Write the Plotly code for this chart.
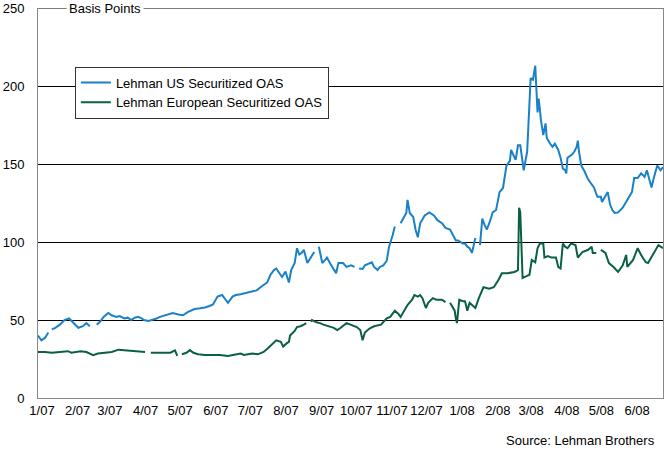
import pandas as pd
import plotly.graph_objects as go

# Days since 1 Jan 2007 and spread in basis points (None = gap in the series)
us_day = [0, 3, 6, 9, 10, 12, 15, 19, 23, 27, 31, 35, 39, 42, 45, 47, 51, 54, 57, 61,
          64, 68, 71, 75, 78, 81, 84, 87, 90, 92, 96, 99, 103, 106, 111, 115, 117, 122, 126, 130,
          134, 136, 141, 145, 149, 152, 156, 160, 163, 165, 169, 172, 176, 179, 184, 190, 195, 199, 202, 205,
          207, 210, 212, 215, 218, 220, 223, 225, 227, 229, 231, 234, 237, 240, 241, 244, 247, 249, 251, 254,
          259, 261, 265, 268, 272, 275, 277, 279, 282, 284, 290, 292, 295, 297, 300, 303, 305, 308, 310, 312,
          315, 318, 320, 321, 323, 326, 328, 330, 332, 336, 340, 344, 347, 351, 354, 358, 363, 365, 369, 371,
          373, 375, 377, 380, 381, 384, 386, 388, 390, 393, 395, 398, 401, 404, 407, 410, 411, 415, 417, 419,
          422, 425, 428, 430, 432, 434, 435, 437, 439, 441, 442, 445, 447, 449, 452, 454, 456, 458, 459, 460,
          464, 466, 468, 469, 470, 472, 475, 478, 480, 483, 486, 489, 490, 493, 495, 497, 499, 501, 504, 508,
          512, 516, 518, 521, 524, 527, 529, 531, 533, 535, 538, 541, 543]
us_oas = [40, 37, 38.5, 42, None, 44, 45, 47, 50, 51, 48, 45, 46, 48, 46, None, 47, 49, 52, 54.5,
          53, 52, 52.5, 51, 51.5, 50, 51.5, 52, 51, 50, 49.4, 50, 51, 52, 53, 54, 54.5, 53.5, 53, 55,
          56, 57, 57.5, 58, 59, 60, 65, 66, 63, 61, 65, 66, 66.5, 67, 68, 69, 72, 74, 79, 82,
          83, 80, 77.6, 81, 74, 82, 86.5, 96, 92, 93, 95, 86.5, 90, 93.6, None, 97, 86.5, 88, 90, 86,
          80, 86.5, 86.5, 84, 85, 84, None, 83, 82.7, 85, 87, 84, 82, 84, 85, 88, 97, 104, 110, None,
          112, 116, 118.6, 127, 118.6, 116, 108, 103, 112, 117, 119, 117, 114, 112, 109, 108, 101, 101, 99, 99,
          97, 96, 93, 102.6, None, 98, 115, 111, 108, 114, 119, 120.5, 132, 134.6, 149, 152, 159, 152.6, 162, 162,
          146, 158, 205, 204, 213, 183, 192, 178, 168.6, 176, 166.7, 163, 161, 163, 159, 154, 147, 146, 144, 154,
          156, 158, 161, 165, 158, 149, 145, 140, 138, 135, 129, 129, 125.6, 130, 132, 124, 120.5, 118.6, 119, 122,
          127, 132, 141, 141, 144, 141.7, 146, 140, 135, 141, 149, 146, 148]

eu_day = [0, 6, 12, 19, 26, 29, 37, 42, 48, 52, 58, 64, 70, 76, 83, 90, 93, 96, 98, 103,
          109, 115, 119, 121, 123, 125, 129, 132, 135, 139, 145, 151, 158, 165, 171, 176, 179, 186, 191, 196,
          200, 204, 207, 211, 213, 216, 218, 219, 223, 225, 228, 231, 233, 234, 237, 238, 242, 245, 248, 254,
          257, 260, 263, 268, 272, 277, 280, 282, 284, 288, 292, 296, 298, 303, 306, 310, 313, 315, 318, 321,
          325, 327, 330, 332, 334, 337, 339, 343, 346, 351, 354, 356, 358, 362, 363, 364, 366, 369, 371, 373,
          375, 380, 383, 387, 392, 396, 400, 403, 408, 414, 417, 418, 419, 421, 424, 427, 429, 432, 434, 436,
          439, 440, 443, 446, 450, 452, 454, 456, 458, 460, 463, 467, 469, 473, 478, 481, 482, 485, 487, 489,
          493, 496, 500, 504, 508, 511, 512, 517, 521, 524, 528, 530, 534, 539, 543]
eu_oas = [29.5, 29.5, 29, 29.5, 30, 29, 30, 29.5, 27.5, 28.5, 29, 29.5, 31, 30.5, 30, 29.5, 29.5, None, 29, 29,
          29, 29, 30.5, 27, None, 28, 29, 30.7, 29, 28, 27.5, 27.5, 27.5, 27, 28, 28.5, 27.6, 28.5, 28, 29.5,
          32, 35, 37, 36, 33, 35, 36, 40, 43, 45.5, 46, 47, 48, None, 49, 50, 48.5, 48, 47, 45.5,
          45, 43.6, 45, 48, 47, 45.5, 43.6, 37, 42, 44.5, 46, 46.5, 47, 51, 52, 56, 54, 52, 56, 59.6,
          63, 66, 65, 66, 64, 57.7, 61, 64, 63, 63, 61.5, None, 61, 56, 51, 48, 63, 62, 62, 56,
          61, 57.7, 64, 71, 70, 71, 75.6, 80, 80, 80.8, 82, 122, 119, 77, 78, 79, 88.5, 87, 96, 99,
          99, 90, 91, 90, 90, 84, 83, 99, 97, 96, 99, 98, 90, 93.6, 95, 97, 93, 93, None, 95,
          93, 86.5, 84, 80.8, 85, 91.7, 84, 88.5, 96, 91.7, 87, 86.5, 91.7, 98, 96]

tick_months = pd.date_range("2007-01-01", "2008-06-01", freq="MS")
tick_labels = ["1/07", "2/07", "3/07", "4/07", "5/07", "6/07", "7/07", "8/07", "9/07",
               "10/07", "11/07", "12/07", "1/08", "2/08", "3/08", "4/08", "5/08", "6/08"]

start = pd.Timestamp("2007-01-01")
us_dates = start + pd.to_timedelta(us_day, unit="D")
eu_dates = start + pd.to_timedelta(eu_day, unit="D")

fig = go.Figure()
fig.add_trace(go.Scatter(x=us_dates, y=us_oas, mode="lines", name="Lehman US Securitized OAS",
                         line=dict(color="#1a80c8", width=2)))
fig.add_trace(go.Scatter(x=eu_dates, y=eu_oas, mode="lines", name="Lehman European Securitized OAS",
                         line=dict(color="#0b6040", width=2)))

fig.update_layout(
    width=664, height=452,
    margin=dict(l=38, r=1, t=8, b=54),
    paper_bgcolor="white", plot_bgcolor="white",
    font=dict(family="Liberation Sans, Arial", size=13, color="#000"),
    showlegend=True,
    legend=dict(x=0.059, y=0.85, xanchor="left", yanchor="top",
                bgcolor="white", bordercolor="#333", borderwidth=1,
                font=dict(size=13), itemwidth=30, tracegroupgap=0),
    xaxis=dict(type="date", range=[start, pd.Timestamp("2008-06-27")],
               tickvals=tick_months, ticktext=tick_labels, ticklabelshift=4,
               showgrid=False, showline=True, linecolor="#888", linewidth=1,
               ticks="", zeroline=False),
    yaxis=dict(range=[0, 250], dtick=50, showgrid=True, gridcolor="#000", gridwidth=1,
               showline=True, linecolor="#888", linewidth=1, mirror=True,
               ticks="", ticklabelstandoff=10, zeroline=False),
)

# top gridline at 250 with the unit label sitting on it
fig.add_hline(y=250, line=dict(color="#000", width=1))
fig.add_annotation(text="Basis Points", xref="paper", yref="paper", x=0.045, y=1,
                   xanchor="left", yanchor="middle", showarrow=False, bgcolor="white",
                   borderpad=2)
fig.add_annotation(text="Source: Lehman Brothers", xref="paper", yref="paper", x=0.99, y=-0.108,
                   xanchor="right", yanchor="middle", showarrow=False)

fig.write_html("out.html", config={"displayModeBar": False},
               post_script="document.body.style.margin='0';")
